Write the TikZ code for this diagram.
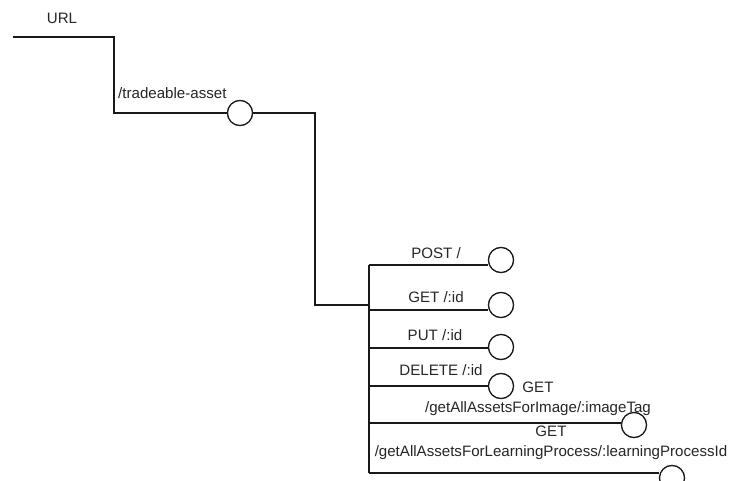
\documentclass[tikz,border=0pt]{standalone}
\usepackage{fontspec}
\setmainfont{Liberation Sans}
\begin{document}
\begin{tikzpicture}[x=1pt,y=-1pt,
  wire/.style={line width=2.2pt, draw=black!90},
  port/.style={circle, draw=black!90, line width=1.2pt, fill=white, minimum size=25pt, inner sep=0pt},
  lbl/.style={font=\fontsize{15.1}{20}\selectfont, text=black!85, inner sep=0pt, align=center}]
\useasboundingbox (0,0) rectangle (731,481);
\clip (0,0) rectangle (731,481);
\fill[white] (0,0) rectangle (731,481);
% ports
\node[port] (c0) at (240,113) {};
\node[port] (c1) at (501,260) {};
\node[port] (c2) at (501,305) {};
\node[port] (c3) at (501,347) {};
\node[port] (c4) at (501,386) {};
\node[port] (c5) at (634,425) {};
\node[port] (c6) at (672,478) {};
% coordinates
\coordinate (s0) at (13,37);
\coordinate (k1) at (114,37);
\coordinate (k2) at (114,113);
\coordinate (k3) at (315,113);
\coordinate (k4) at (315,305);
\coordinate (b1) at (369,265);
\coordinate (b2) at (369,310);
\coordinate (b3) at (369,348);
\coordinate (b4) at (369,386);
\coordinate (b5) at (369,423);
\coordinate (b6) at (369,473);
\coordinate (bk) at (369,305);
% wires
\draw[wire] (s0) -- (k1) -- (k2) -- (c0.west);
\draw[wire] (c0.east) -- (k3) -- (k4) -- (bk);
\draw[wire] (b1) -- (b6);
\draw[wire] (b1) -- (b1 -| c1.west);
\draw[wire] (b2) -- (b2 -| c2.west);
\draw[wire] (b3) -- (b3 -| c3.west);
\draw[wire] (b4) -- (b4 -| c4.west);
\draw[wire] (b5) -- (b5 -| c5.west);
\draw[wire] (b6) -- (b6 -| c6.west);
% redraw ports over wires
\foreach \c in {c0,c1,c2,c3,c4,c5,c6} {\node[port] at (\c) {};}
% labels
\node[lbl] (tu) at (62,18) {URL};
\node[lbl, anchor=west] (tt) at (118,93) {/tradeable-asset};
\node[lbl] (t1) at (436,253) {POST /};
\node[lbl] (t2) at (436,297) {GET /:id};
\node[lbl] (t3) at (435,335) {PUT /:id};
\node[lbl] (t4) at (441,370) {DELETE /:id};
\node[lbl] (t5) at (538,399) {GET\\/getAllAssetsForImage/:imageTag};
\node[lbl] (t6) at (551,443) {GET\\/getAllAssetsForLearningProcess/:learningProcessId};
\end{tikzpicture}
\end{document}
